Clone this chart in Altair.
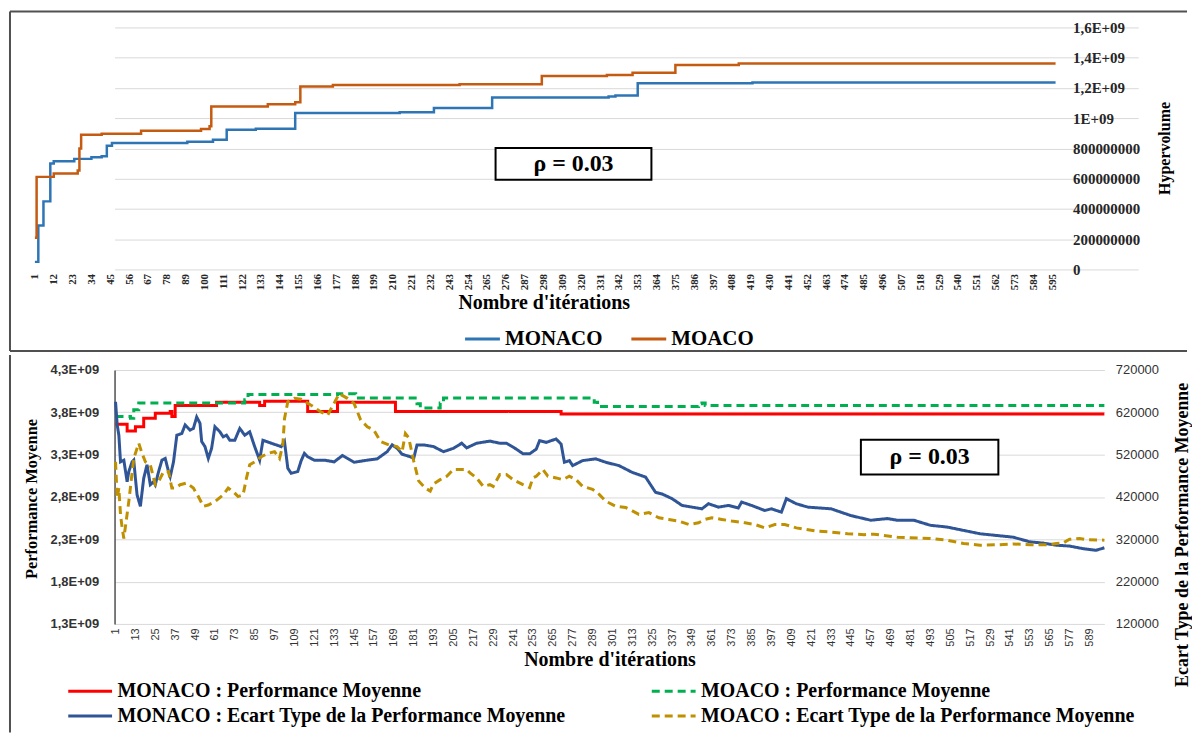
import altair as alt
import pandas as pd

SERIF = "Liberation Serif"
SANS = "Liberation Sans"
FRAME = "#505050"
GRID = "#d9d9d9"

# ---------------- top panel : hypervolume ----------------
TOP_X_TICKS = list(range(1, 597, 11))
TOP_Y_TICKS = [0, 2e8, 4e8, 6e8, 8e8, 1e9, 1.2e9, 1.4e9, 1.6e9]

# (iteration, hypervolume) step points
HV_MONACO = [(1, 0.05e9), (3, 0.29e9), (6, 0.45e9), (10, 0.70e9), (12, 0.716e9), (24, 0.731e9),
             (34, 0.742e9), (40, 0.749e9), (43, 0.818e9), (46, 0.836e9), (90, 0.845e9),
             (105, 0.858e9), (113, 0.924e9), (130, 0.930e9), (153, 1.034e9), (214, 1.040e9),
             (234, 1.067e9), (268, 1.137e9), (336, 1.144e9), (340, 1.150e9), (353, 1.231e9),
             (420, 1.236e9), (597, 1.236e9)]
HV_MOACO = [(1, 0.21e9), (2, 0.612e9), (12, 0.634e9), (26, 0.654e9), (27, 0.80e9), (28, 0.891e9),
            (40, 0.897e9), (63, 0.917e9), (98, 0.928e9), (103, 0.946e9), (104, 1.078e9),
            (137, 1.093e9), (153, 1.106e9), (156, 1.209e9), (175, 1.220e9), (249, 1.225e9),
            (297, 1.279e9), (335, 1.285e9), (350, 1.301e9), (375, 1.352e9), (412, 1.361e9),
            (597, 1.361e9)]
TOP_SERIES = ["MONACO", "MOACO"]
TOP_COLORS = ["#2E75B6", "#C55A11"]
TOP_BOX = {"x1": 270, "x2": 361, "y1": 0.593e9, "y2": 0.803e9, "label": "ρ = 0.03"}

# ---------------- bottom panel ----------------
BOT_X_TICKS = list(range(1, 598, 12))
PM_TICKS = [1.3e9, 1.8e9, 2.3e9, 2.8e9, 3.3e9, 3.8e9, 4.3e9]
STD_TICKS = [120000, 220000, 320000, 420000, 520000, 620000, 720000]

PM_MONACO = [(1, 3.66e9), (8, 3.58e9), (13, 3.63e9), (18, 3.73e9), (25, 3.79e9), (34, 3.81e9),
             (35, 3.75e9), (37, 3.88e9), (62, 3.92e9), (88, 3.88e9), (91, 3.93e9), (117, 3.81e9),
             (135, 3.92e9), (170, 3.81e9), (270, 3.78e9), (598, 3.78e9)]
PM_MOACO = [(1, 3.75e9), (10, 3.73e9), (12, 3.83e9), (15, 3.91e9), (79, 3.95e9), (81, 4.01e9),
            (135, 4.02e9), (146, 3.97e9), (183, 3.90e9), (185, 3.85e9), (197, 3.91e9),
            (199, 3.97e9), (290, 3.92e9), (292, 3.87e9), (353, 3.90e9), (355, 3.91e9),
            (357, 3.88e9), (598, 3.88e9)]

STD_MONACO = [(1, 645), (2, 590), (3, 566), (4, 503), (6, 507), (8, 456), (9, 480), (11, 503),
              (12, 507), (13, 464), (14, 425), (16, 398), (18, 464), (20, 496), (22, 449), (24, 456),
              (25, 449), (27, 480), (29, 507), (31, 511), (33, 480), (34, 468), (36, 503), (38, 566),
              (41, 570), (43, 590), (46, 578), (48, 582), (50, 609), (52, 594), (53, 551), (55, 539),
              (57, 511), (59, 535), (61, 586), (64, 574), (66, 562), (68, 566), (70, 554), (73, 554),
              (76, 582), (79, 566), (82, 574), (85, 539), (88, 507), (90, 554), (95, 547), (101, 539),
              (103, 551), (105, 488), (107, 476), (111, 480), (113, 505), (115, 523), (117, 515),
              (121, 507), (127, 507), (133, 503), (138, 518), (145, 502), (153, 507), (159, 510),
              (165, 527), (168, 543), (171, 535), (174, 521), (179, 515), (181, 511), (183, 543),
              (187, 543), (193, 539), (199, 527), (205, 535), (210, 547), (213, 536), (219, 547),
              (227, 552), (233, 547), (237, 547), (243, 533), (247, 522), (251, 522), (255, 533),
              (257, 553), (261, 549), (267, 557), (270, 545), (272, 502), (275, 506), (277, 494),
              (283, 506), (291, 510), (297, 502), (305, 494), (313, 478), (321, 467), (327, 431),
              (331, 427), (337, 416), (343, 400), (349, 396), (355, 392), (359, 404), (365, 396),
              (371, 400), (377, 394), (379, 408), (385, 400), (393, 388), (397, 392), (403, 384),
              (406, 416), (412, 404), (419, 396), (433, 392), (445, 376), (457, 365), (467, 369),
              (473, 365), (483, 365), (493, 353), (503, 349), (513, 341), (523, 333), (533, 329),
              (543, 325), (553, 314), (561, 311), (569, 306), (577, 304), (585, 298), (593, 294),
              (598, 300)]
STD_MOACO = [(1, 503), (2, 417), (3, 441), (4, 378), (5, 347), (6, 322), (9, 409), (12, 511),
             (15, 547), (17, 523), (19, 503), (22, 496), (25, 449), (27, 456), (30, 480), (33, 480),
             (35, 441), (37, 441), (40, 449), (44, 453), (48, 441), (51, 421), (54, 398), (57, 401),
             (61, 409), (66, 425), (69, 441), (72, 433), (75, 421), (78, 425), (80, 464), (82, 496),
             (85, 503), (89, 515), (93, 523), (97, 527), (100, 511), (102, 543), (103, 605),
             (105, 645), (109, 653), (113, 651), (119, 637), (125, 621), (129, 613), (134, 649),
             (136, 664), (141, 653), (145, 641), (149, 602), (153, 586), (157, 578), (161, 551),
             (166, 543), (171, 539), (174, 527), (176, 570), (178, 560), (181, 505), (184, 458),
             (188, 441), (191, 434), (193, 451), (197, 461), (201, 469), (205, 485), (209, 485),
             (213, 485), (215, 477), (219, 465), (223, 445), (227, 449), (229, 445), (233, 473),
             (237, 473), (241, 461), (247, 449), (251, 442), (253, 465), (255, 469), (259, 485),
             (262, 469), (267, 465), (271, 461), (275, 469), (279, 461), (283, 445), (289, 438),
             (293, 426), (297, 410), (303, 398), (309, 395), (313, 387), (317, 379), (323, 383),
             (329, 371), (335, 367), (341, 363), (347, 355), (353, 359), (357, 367), (361, 371),
             (367, 367), (373, 363), (381, 359), (387, 355), (393, 347), (399, 355), (405, 355),
             (412, 347), (423, 340), (433, 337), (443, 333), (453, 331), (459, 332), (473, 325),
             (493, 322), (503, 318), (513, 310), (523, 306), (533, 307), (543, 309), (553, 307),
             (563, 307), (569, 310), (573, 311), (577, 320), (583, 322), (587, 319), (598, 318)]

PM_NAMES = ["MONACO : Performance Moyenne", "MOACO : Performance Moyenne"]
STD_NAMES = ["MONACO : Ecart Type de la Performance Moyenne",
             "MOACO : Ecart Type de la Performance Moyenne"]
# legend order (filled column by column): MONACO entries, then MOACO entries
BOT_SERIES = [PM_NAMES[0], STD_NAMES[0], PM_NAMES[1], STD_NAMES[1]]
BOT_COLORS = ["#FF0000", "#2F5597", "#00B050", "#BF9000"]
BOT_DASH = [[1, 0], [1, 0], [8, 5], [8, 5]]
BOT_BOX = {"x1": 451, "x2": 534, "y1": 3.065e9, "y2": 3.476e9, "label": "ρ = 0.03"}


def frame_df(pairs, name, col="value", scale=1):
    return pd.DataFrame({"iter": [p[0] for p in pairs],
                         col: [p[1] * scale for p in pairs],
                         "series": name})


dummy = pd.DataFrame({"k": [0]})


def rule(**kw):
    return alt.Chart(dummy).mark_rule(color=FRAME, strokeWidth=2).encode(**kw)


# ---------------- top chart ----------------
top_df = pd.concat([frame_df(HV_MONACO, "MONACO"), frame_df(HV_MOACO, "MOACO")])
top_box = pd.DataFrame([TOP_BOX])
top_box["xm"] = (top_box["x1"] + top_box["x2"]) / 2
top_box["ym"] = (top_box["y1"] + top_box["y2"]) / 2

TOP_W = 945
top_xscale = alt.Scale(domain=[-0.75, 597], range=[-83, TOP_W], nice=False, zero=False)
top_yscale = alt.Scale(domain=[0, 1.6e9], nice=False, zero=True)
top_xaxis = alt.Axis(values=TOP_X_TICKS, labelAngle=-90, labelFont=SERIF, labelFontWeight="bold",
                     labelFontSize=11, labelColor="#262626", labelPadding=4, labelOverlap=False,
                     labelFlush=False, ticks=False, domain=False, grid=False,
                     title="Nombre d'itérations", titleFont=SERIF, titleFontSize=20,
                     titleFontWeight="bold", titleColor="black", titlePadding=3)
top_yaxis = alt.Axis(orient="right", values=TOP_Y_TICKS,
                     labelExpr="datum.value == 0 ? '0' : (datum.value < 1e9 ? format(datum.value, 'd') : replace(format(datum.value / 1e9, '.1~f'), '.', ',') + 'E+09')",
                     labelFont=SERIF, labelFontWeight="bold", labelFontSize=15, labelColor="#262626",
                     labelPadding=17, ticks=False, domain=False, grid=True, gridColor=GRID,
                     title="Hypervolume", titleFont=SERIF, titleFontSize=16, titleFontWeight="bold",
                     titleColor="black", titleAngle=270, titleX=109, titleY=121,
                     titleAlign="center", titleBaseline="middle")
top_legend = alt.Legend(title=None, orient="none", legendX=358, legendY=301, direction="horizontal",
                        symbolType="M-1.75,0H1.75", symbolSize=400, symbolStrokeWidth=3,
                        labelFont=SERIF, labelFontWeight="bold", labelFontSize=21,
                        labelColor="black", columnPadding=23, labelOffset=11)

top_lines = alt.Chart(top_df).mark_line(interpolate="step-after", strokeWidth=2.5).encode(
    x=alt.X("iter:Q", scale=top_xscale, axis=top_xaxis),
    y=alt.Y("value:Q", scale=top_yscale, axis=top_yaxis),
    color=alt.Color("series:N", scale=alt.Scale(domain=TOP_SERIES, range=TOP_COLORS),
                    legend=top_legend),
)
top_rect = alt.Chart(top_box).mark_rect(fill="white", stroke="black", strokeWidth=2).encode(
    x=alt.X("x1:Q", scale=top_xscale, axis=top_xaxis), x2="x2:Q",
    y=alt.Y("y1:Q", scale=top_yscale, axis=top_yaxis), y2="y2:Q")
top_text = alt.Chart(top_box).mark_text(font=SERIF, fontSize=24, fontWeight="bold",
                                        color="black").encode(
    x=alt.X("xm:Q", scale=top_xscale, axis=top_xaxis),
    y=alt.Y("ym:Q", scale=top_yscale, axis=top_yaxis), text="label:N")

top_frame = [rule(x=alt.value(-105), y=alt.value(-16), y2=alt.value(325)),
             rule(x=alt.value(-105), x2=alt.value(1077), y=alt.value(-16)),
             rule(x=alt.value(-105), x2=alt.value(1077), y=alt.value(325))]

top = alt.layer(*top_frame, top_lines, top_rect, top_text).properties(width=TOP_W, height=243)

# ---------------- bottom chart ----------------
pm_df = pd.concat([frame_df(PM_MONACO, PM_NAMES[0]), frame_df(PM_MOACO, PM_NAMES[1])])
std_df = pd.concat([frame_df(STD_MONACO, STD_NAMES[0], "std", 1000),
                    frame_df(STD_MOACO, STD_NAMES[1], "std", 1000)])
bot_box = pd.DataFrame([BOT_BOX])
bot_box["xm"] = (bot_box["x1"] + bot_box["x2"]) / 2
bot_box["ym"] = (bot_box["y1"] + bot_box["y2"]) / 2

bot_xscale = alt.Scale(domain=[0.4, 598], nice=False, zero=False)
bot_xaxis = alt.Axis(values=BOT_X_TICKS, labelAngle=-90, labelFont=SANS, labelFontSize=11,
                     labelColor="#333333", labelPadding=4, labelOverlap=False, labelFlush=False,
                     ticks=False, domain=False, grid=False,
                     title="Nombre d'itérations", titleFont=SERIF, titleFontSize=20,
                     titleFontWeight="bold", titleColor="black", titlePadding=3)
pm_scale = alt.Scale(domain=[1.3e9, 4.3e9], nice=False, zero=False)
pm_axis = alt.Axis(orient="left", values=PM_TICKS,
                   labelExpr="replace(format(datum.value / 1e9, '.1f'), '.', ',') + 'E+09'",
                   labelFont=SANS, labelFontWeight="bold", labelFontSize=13, labelColor="#333333",
                   labelPadding=16, ticks=False, domain=True, domainColor=FRAME, domainWidth=1.5,
                   grid=True, gridColor=GRID,
                   title="Performance Moyenne", titleFont=SERIF, titleFontSize=16.5,
                   titleFontWeight="bold", titleColor="black", titleAngle=270, titleX=-83,
                   titleY=129, titleAlign="center", titleBaseline="middle")
std_scale = alt.Scale(domain=[120000, 720000], nice=False, zero=False)
std_axis = alt.Axis(orient="right", values=STD_TICKS, format="d", labelFont=SANS, labelFontSize=13,
                    labelColor="#333333", labelPadding=11, ticks=False, domain=False, grid=False,
                    title="Ecart Type de la Performance Moyenne", titleFont=SERIF, titleFontSize=18,
                    titleFontWeight="bold", titleColor="black", titleAngle=270, titleX=78,
                    titleY=165, titleAlign="center", titleBaseline="middle")
bot_legend = alt.Legend(title=None, orient="none", legendX=-39.5, legendY=307.5, columns=2,
                        symbolType="M-1.63,0H1.63", symbolSize=729, symbolStrokeWidth=3,
                        labelFont=SERIF, labelFontWeight="bold", labelFontSize=20,
                        labelColor="black", columnPadding=79, rowPadding=0, labelLimit=0,
                        labelOffset=12.5)
bot_color = alt.Color("series:N", scale=alt.Scale(domain=BOT_SERIES, range=BOT_COLORS),
                      legend=bot_legend)
bot_dash = alt.StrokeDash("series:N", scale=alt.Scale(domain=BOT_SERIES, range=BOT_DASH),
                          legend=bot_legend)

pm_lines = alt.Chart(pm_df).mark_line(interpolate="step-after", strokeWidth=3).encode(
    x=alt.X("iter:Q", scale=bot_xscale, axis=bot_xaxis),
    y=alt.Y("value:Q", scale=pm_scale, axis=pm_axis),
    color=bot_color, strokeDash=bot_dash)
bot_rect = alt.Chart(bot_box).mark_rect(fill="white", stroke="black", strokeWidth=2).encode(
    x=alt.X("x1:Q", scale=bot_xscale, axis=bot_xaxis), x2="x2:Q",
    y=alt.Y("y1:Q", scale=pm_scale, axis=pm_axis), y2="y2:Q")
bot_text = alt.Chart(bot_box).mark_text(font=SERIF, fontSize=24, fontWeight="bold",
                                        color="black").encode(
    x=alt.X("xm:Q", scale=bot_xscale, axis=bot_xaxis),
    y=alt.Y("ym:Q", scale=pm_scale, axis=pm_axis), text="label:N")
std_lines = alt.Chart(std_df).mark_line(strokeWidth=3).encode(
    x=alt.X("iter:Q", scale=bot_xscale, axis=bot_xaxis),
    y=alt.Y("std:Q", scale=std_scale, axis=std_axis),
    color=bot_color, strokeDash=bot_dash)

bot_frame = [rule(x=alt.value(-105), y=alt.value(-15), y2=alt.value(364))]

bottom = alt.layer(
    alt.layer(*bot_frame, pm_lines, bot_rect, bot_text),
    std_lines,
).resolve_scale(y="independent").properties(width=994, height=255)

chart = alt.vconcat(top, bottom, spacing=0).resolve_scale(
    color="independent", strokeDash="independent", x="independent", y="independent"
).resolve_legend(color="independent", strokeDash="independent").properties(
    padding={"left": 0, "top": 0, "right": 0, "bottom": 0}, background="white"
).configure_view(stroke="transparent")

chart.save("out.html", embed_options={"renderer": "svg", "actions": False})
